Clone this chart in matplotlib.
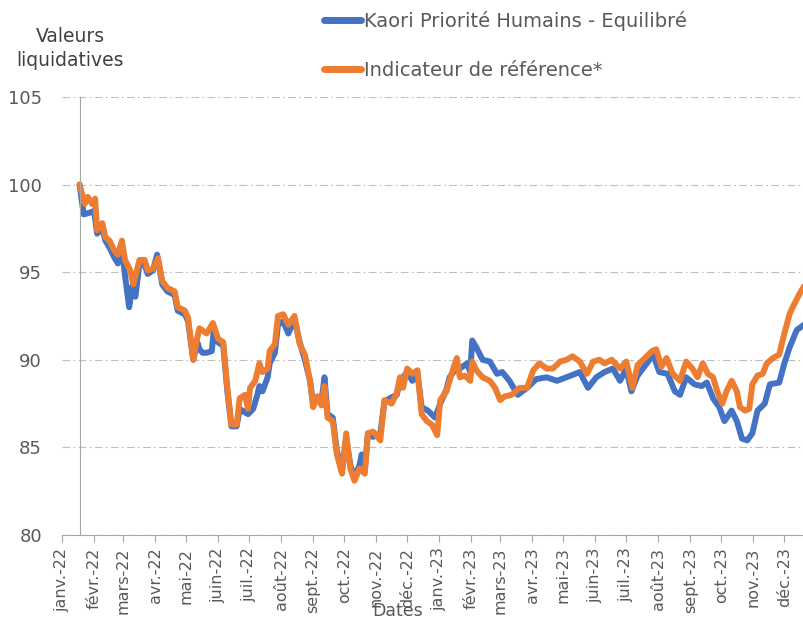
import matplotlib
matplotlib.use("Agg")
import matplotlib.pyplot as plt
import matplotlib.dates as mdates
import pandas as pd

# ---------------------------------------------------------------------------
# Valeurs liquidatives (base 100)
# ---------------------------------------------------------------------------
FONDS_DATES = [
    "2022-01-18", "2022-01-22", "2022-01-28", "2022-02-01", "2022-02-04", "2022-02-09",
    "2022-02-12", "2022-02-16", "2022-02-21", "2022-02-24", "2022-02-28", "2022-03-03",
    "2022-03-07", "2022-03-10", "2022-03-13", "2022-03-17", "2022-03-22", "2022-03-25",
    "2022-03-30", "2022-04-03", "2022-04-08", "2022-04-13", "2022-04-20", "2022-04-23",
    "2022-04-30", "2022-05-03", "2022-05-08", "2022-05-12", "2022-05-14", "2022-05-17",
    "2022-05-21", "2022-05-26", "2022-05-28", "2022-06-01", "2022-06-06", "2022-06-10",
    "2022-06-14", "2022-06-19", "2022-06-22", "2022-06-27", "2022-06-30", "2022-07-05",
    "2022-07-09", "2022-07-11", "2022-07-14", "2022-07-19", "2022-07-21", "2022-07-26",
    "2022-07-29", "2022-08-03", "2022-08-08", "2022-08-14", "2022-08-19", "2022-08-24",
    "2022-08-29", "2022-09-01", "2022-09-05", "2022-09-09", "2022-09-12", "2022-09-15",
    "2022-09-20", "2022-09-24", "2022-09-29", "2022-10-03", "2022-10-07", "2022-10-11",
    "2022-10-16", "2022-10-18", "2022-10-21", "2022-10-24", "2022-10-29", "2022-11-05",
    "2022-11-09", "2022-11-14", "2022-11-21", "2022-11-24", "2022-12-01", "2022-12-06",
    "2022-12-11", "2022-12-15", "2022-12-21", "2022-12-28", "2023-01-02", "2023-01-08",
    "2023-01-11", "2023-01-16", "2023-01-21", "2023-01-28", "2023-01-31", "2023-02-02",
    "2023-02-06", "2023-02-12", "2023-02-19", "2023-02-26", "2023-03-03", "2023-03-10",
    "2023-03-18", "2023-03-27", "2023-04-05", "2023-04-15", "2023-04-25", "2023-05-04",
    "2023-05-17", "2023-05-25", "2023-06-02", "2023-06-10", "2023-06-18", "2023-06-25",
    "2023-07-01", "2023-07-06", "2023-07-12", "2023-07-21", "2023-07-27", "2023-08-02",
    "2023-08-10", "2023-08-17", "2023-08-22", "2023-08-28", "2023-09-05", "2023-09-12",
    "2023-09-17", "2023-09-23", "2023-09-29", "2023-10-04", "2023-10-11", "2023-10-16",
    "2023-10-21", "2023-10-26", "2023-10-31", "2023-11-05", "2023-11-12", "2023-11-17",
    "2023-11-26", "2023-12-01", "2023-12-06", "2023-12-13", "2023-12-20",
]
FONDS_VALUES = [
    100.0, 98.3, 98.4, 98.5, 97.2, 97.5,
    96.8, 96.4, 95.8, 95.5, 96.3, 94.8,
    93.0, 94.2, 93.6, 95.5, 95.4, 94.9,
    95.1, 96.0, 94.3, 93.9, 93.7, 92.8,
    92.6, 92.2, 90.0, 91.0, 90.6, 90.4,
    90.4, 90.5, 91.8, 91.0, 90.8, 88.2,
    86.2, 86.2, 87.2, 87.0, 86.9, 87.2,
    88.0, 88.5, 88.2, 89.0, 89.8, 90.4,
    92.0, 92.2, 91.5, 92.3, 91.0, 90.0,
    88.8, 87.5, 87.9, 87.6, 89.0, 86.9,
    86.7, 84.8, 83.7, 85.5, 84.0, 83.3,
    84.0, 84.6, 83.7, 85.8, 85.6, 85.8,
    87.6, 87.8, 88.0, 88.8, 89.3, 88.8,
    89.2, 87.3, 87.1, 86.7, 87.5, 88.3,
    89.0, 89.4, 89.5, 89.8, 89.3, 91.1,
    90.7, 90.0, 89.9, 89.2, 89.3, 88.8,
    88.0, 88.4, 88.9, 89.0, 88.8, 89.0,
    89.3, 88.4, 89.0, 89.3, 89.5, 88.8,
    89.5, 88.2, 89.1, 89.8, 90.3, 89.3,
    89.2, 88.2, 88.0, 89.0, 88.6, 88.5,
    88.7, 87.8, 87.3, 86.5, 87.1, 86.5,
    85.5, 85.4, 85.8, 87.1, 87.5, 88.6,
    88.7, 89.8, 90.7, 91.7, 92.0,
]

REF_DATES = [
    "2022-01-18", "2022-01-23", "2022-01-26", "2022-01-30", "2022-02-02", "2022-02-04",
    "2022-02-09", "2022-02-12", "2022-02-16", "2022-02-21", "2022-02-24", "2022-02-28",
    "2022-03-03", "2022-03-08", "2022-03-11", "2022-03-17", "2022-03-22", "2022-03-25",
    "2022-03-30", "2022-04-04", "2022-04-08", "2022-04-13", "2022-04-20", "2022-04-23",
    "2022-04-30", "2022-05-03", "2022-05-08", "2022-05-12", "2022-05-14", "2022-05-21",
    "2022-05-27", "2022-06-01", "2022-06-06", "2022-06-10", "2022-06-14", "2022-06-19",
    "2022-06-22", "2022-06-27", "2022-06-30", "2022-07-02", "2022-07-07", "2022-07-11",
    "2022-07-14", "2022-07-19", "2022-07-21", "2022-07-26", "2022-07-29", "2022-08-03",
    "2022-08-08", "2022-08-14", "2022-08-19", "2022-08-24", "2022-08-29", "2022-09-01",
    "2022-09-05", "2022-09-09", "2022-09-12", "2022-09-15", "2022-09-20", "2022-09-24",
    "2022-09-29", "2022-10-03", "2022-10-07", "2022-10-11", "2022-10-16", "2022-10-21",
    "2022-10-24", "2022-10-29", "2022-11-05", "2022-11-09", "2022-11-16", "2022-11-21",
    "2022-11-24", "2022-11-27", "2022-12-01", "2022-12-06", "2022-12-11", "2022-12-15",
    "2022-12-20", "2022-12-25", "2022-12-30", "2023-01-02", "2023-01-08", "2023-01-13",
    "2023-01-18", "2023-01-21", "2023-01-26", "2023-01-31", "2023-02-02", "2023-02-06",
    "2023-02-12", "2023-02-19", "2023-02-24", "2023-03-01", "2023-03-05", "2023-03-12",
    "2023-03-20", "2023-03-27", "2023-04-02", "2023-04-08", "2023-04-15", "2023-04-21",
    "2023-04-28", "2023-05-04", "2023-05-10", "2023-05-17", "2023-05-24", "2023-05-30",
    "2023-06-05", "2023-06-10", "2023-06-17", "2023-06-25", "2023-07-01", "2023-07-07",
    "2023-07-12", "2023-07-19", "2023-07-26", "2023-07-30", "2023-08-04", "2023-08-09",
    "2023-08-15", "2023-08-22", "2023-08-28", "2023-09-03", "2023-09-08", "2023-09-13",
    "2023-09-18", "2023-09-23", "2023-09-27", "2023-10-02", "2023-10-06", "2023-10-11",
    "2023-10-16", "2023-10-19", "2023-10-24", "2023-10-28", "2023-10-31", "2023-11-05",
    "2023-11-10", "2023-11-14", "2023-11-20", "2023-11-26", "2023-12-01", "2023-12-06",
    "2023-12-09", "2023-12-16", "2023-12-20",
]
REF_VALUES = [
    100.0, 98.9, 99.3, 98.9, 99.2, 97.4,
    97.8, 97.0, 96.8, 96.2, 96.0, 96.8,
    95.7, 95.1, 94.3, 95.7, 95.7, 95.1,
    95.2, 95.8, 94.5, 94.1, 93.9, 93.0,
    92.8, 92.4, 90.0, 91.3, 91.8, 91.5,
    92.1, 91.2, 91.0, 88.4, 86.3, 86.3,
    87.8, 88.0, 87.2, 88.4, 88.8, 89.8,
    89.3, 89.5, 90.5, 90.9, 92.5, 92.6,
    92.0, 92.5, 90.9, 90.3, 88.8, 87.3,
    87.9, 87.4, 88.5, 86.7, 86.5, 84.6,
    83.5, 85.8, 83.8, 83.1, 83.8, 83.5,
    85.8, 85.9, 85.4, 87.7, 87.5, 88.1,
    89.0, 88.4, 89.5, 89.2, 89.4, 86.9,
    86.5, 86.3, 85.7, 87.7, 88.2, 89.2,
    90.1, 89.0, 89.1, 88.8, 89.9, 89.4,
    89.0, 88.8, 88.4, 87.7, 87.9, 88.0,
    88.4, 88.4, 89.4, 89.8, 89.5, 89.5,
    89.9, 90.0, 90.2, 89.9, 89.2, 89.9,
    90.0, 89.8, 90.0, 89.5, 89.9, 88.4,
    89.7, 90.1, 90.5, 90.6, 89.6, 90.1,
    89.2, 88.8, 89.9, 89.5, 89.0, 89.8,
    89.2, 89.0, 88.2, 87.5, 88.2, 88.8,
    88.2, 87.3, 87.1, 87.2, 88.6, 89.1,
    89.2, 89.8, 90.1, 90.3, 91.5, 92.6,
    93.0, 93.8, 94.2,
]

MONTH_LABELS = [
    "janv.-22", "févr.-22", "mars-22", "avr.-22", "mai-22", "juin-22",
    "juil.-22", "août-22", "sept.-22", "oct.-22", "nov.-22", "déc.-22",
    "janv.-23", "févr.-23", "mars-23", "avr.-23", "mai-23", "juin-23",
    "juil.-23", "août-23", "sept.-23", "oct.-23", "nov.-23", "déc.-23",
]

BLUE = "#4472C4"
ORANGE = "#ED7D31"
GREY_TXT = "#595959"
GREY_LINE = "#A6A6A6"

plt.rcParams["font.family"] = "DejaVu Sans"

fig = plt.figure(figsize=(8.04, 6.21), dpi=100)
ax = fig.add_axes([62 / 804, 86 / 621, 1 - 62 / 804, 438 / 621])

fonds_dates = pd.to_datetime(FONDS_DATES)
ref_dates = pd.to_datetime(REF_DATES)

ax.plot(fonds_dates, FONDS_VALUES, color=BLUE, linewidth=4.3,
        solid_joinstyle="round", solid_capstyle="round",
        label="Kaori Priorité Humains - Equilibré")
ax.plot(ref_dates, REF_VALUES, color=ORANGE, linewidth=4.3,
        solid_joinstyle="round", solid_capstyle="round",
        label="Indicateur de référence*")

ax.set_xlim(pd.Timestamp("2022-01-01"), pd.Timestamp("2023-12-20"))
ax.set_ylim(80, 105)
ax.set_yticks([80, 85, 90, 95, 100, 105])

month_ticks = pd.date_range("2022-01-01", periods=len(MONTH_LABELS), freq="MS")
ax.set_xticks(month_ticks)
ax.set_xticklabels(MONTH_LABELS, rotation=90, fontsize=11.5, color=GREY_TXT)

# vertical axis drawn where the series start
ax.spines["left"].set_position(("data", mdates.date2num(ref_dates[0])))
ax.spines["left"].set_color(GREY_LINE)
ax.spines["bottom"].set_color(GREY_LINE)
ax.spines["top"].set_visible(False)
ax.spines["right"].set_visible(False)

ax.tick_params(axis="y", length=0, pad=27, labelsize=13, labelcolor=GREY_TXT)
ax.tick_params(axis="x", length=5, color=GREY_LINE, pad=4)

ax.grid(axis="y", color="#BFBFBF", linewidth=0.8, linestyle=(0, (7, 3, 1.5, 3)))
ax.set_axisbelow(True)

fig.text(70 / 804, 1 - 27 / 621, "Valeurs\nliquidatives", ha="center", va="top",
         fontsize=13.5, color="#404040", linespacing=1.3)
fig.text(398 / 804, 1 / 621, "Dates", ha="center", va="bottom",
         fontsize=12.5, color=GREY_TXT)

leg = fig.legend(loc="upper left", bbox_to_anchor=(314 / 804, 1 - 1 / 621),
                 frameon=False, fontsize=14, handlelength=1.9,
                 handletextpad=0.15, labelspacing=1.55, borderpad=0)
for txt in leg.get_texts():
    txt.set_color(GREY_TXT)
for line in leg.get_lines():
    line.set_linewidth(5)

fig.savefig("out.png", dpi=100)
